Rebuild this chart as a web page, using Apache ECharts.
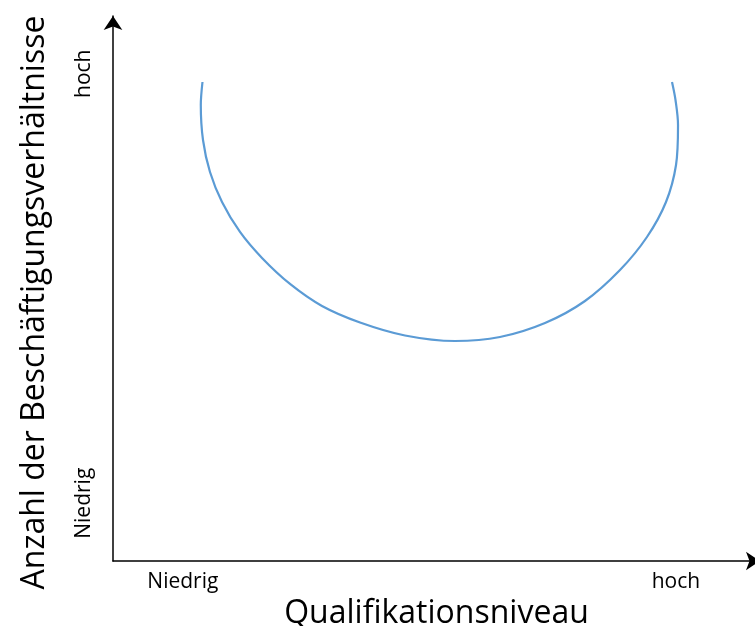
<!DOCTYPE html>
<html>
<head>
<meta charset="utf-8">
<script src="https://cdn.jsdelivr.net/npm/echarts@6/dist/echarts.min.js"></script>
<style>html,body{margin:0;padding:0;background:#fff;}#chart{width:755px;height:626px;}</style>
</head>
<body>
<div id="chart"></div>
<script>
// Curve points [Qualifikationsniveau, Anzahl] on a 0..100 scale
const curveX = [13.83, 13.57, 13.91, 14.99, 16.85, 19.63, 23.03, 27.36, 32.30, 38.18, 45.13, 52.86, 59.81, 66.77, 72.95, 78.36, 82.53, 85.47, 87.02, 87.33, 86.94, 86.40];
const curveY = [87.89, 83.67, 77.25, 71.38, 65.87, 60.37, 55.60, 50.83, 46.79, 43.76, 41.38, 40.37, 41.10, 43.67, 47.71, 53.39, 59.45, 65.87, 72.66, 80.00, 84.59, 87.89];
const xTickValues = [10.8, 87.0];
const xTickLabels = ['Niedrig', 'hoch'];
const yTickValues = [10.6, 89.4];
const yTickLabels = ['Niedrig', 'hoch'];
const xTitle = 'Qualifikationsniveau';
const yTitle = 'Anzahl der Beschäftigungsverhältnisse';

const FONT = 'Open Sans';
function labelFor(vals, labels) {
  return function (v) {
    for (let i = 0; i < vals.length; i++) if (Math.abs(vals[i] - v) < 0.01) return labels[i];
    return '';
  };
}
const chart = echarts.init(document.getElementById('chart'), null, {renderer: 'canvas'});
chart.setOption({
  animation: false,
  backgroundColor: '#fff',
  grid: {left: 113, right: -5, top: 16, bottom: 65, containLabel: false, outerBoundsMode: 'none'},
  xAxis: {
    type: 'value', min: 0, max: 100,
    axisLine: {show: true, symbol: ['none', 'arrow'], symbolSize: [14, 14], lineStyle: {color: '#000', width: 1.5}},
    axisTick: {show: false}, splitLine: {show: false},
    axisLabel: {customValues: xTickValues, formatter: labelFor(xTickValues, xTickLabels), color: '#000', fontFamily: FONT, fontSize: 21, margin: 11},
    name: xTitle, nameLocation: 'middle', nameGap: 30,
    nameTextStyle: {color: '#000', fontFamily: FONT, fontSize: 32}
  },
  yAxis: {
    type: 'value', min: 0, max: 100,
    axisLine: {show: true, symbol: ['none', 'arrow'], symbolSize: [14, 14], lineStyle: {color: '#000', width: 1.5}},
    axisTick: {show: false}, splitLine: {show: false},
    axisLabel: {customValues: yTickValues, formatter: labelFor(yTickValues, yTickLabels), rotate: 90, color: '#000', fontFamily: FONT, fontSize: 21, margin: 18},
    name: yTitle, nameLocation: 'middle', nameGap: 62, nameRotate: 90,
    nameTextStyle: {color: '#000', fontFamily: FONT, fontSize: 32, padding: [0, 28, 0, 0]}
  },
  series: [{
    type: 'line',
    data: curveX.map((x, i) => [x, curveY[i]]),
    smooth: 0.33, showSymbol: false, clip: false,
    lineStyle: {color: '#5B9BD5', width: 2.2}
  }]
});
</script>
</body>
</html>
